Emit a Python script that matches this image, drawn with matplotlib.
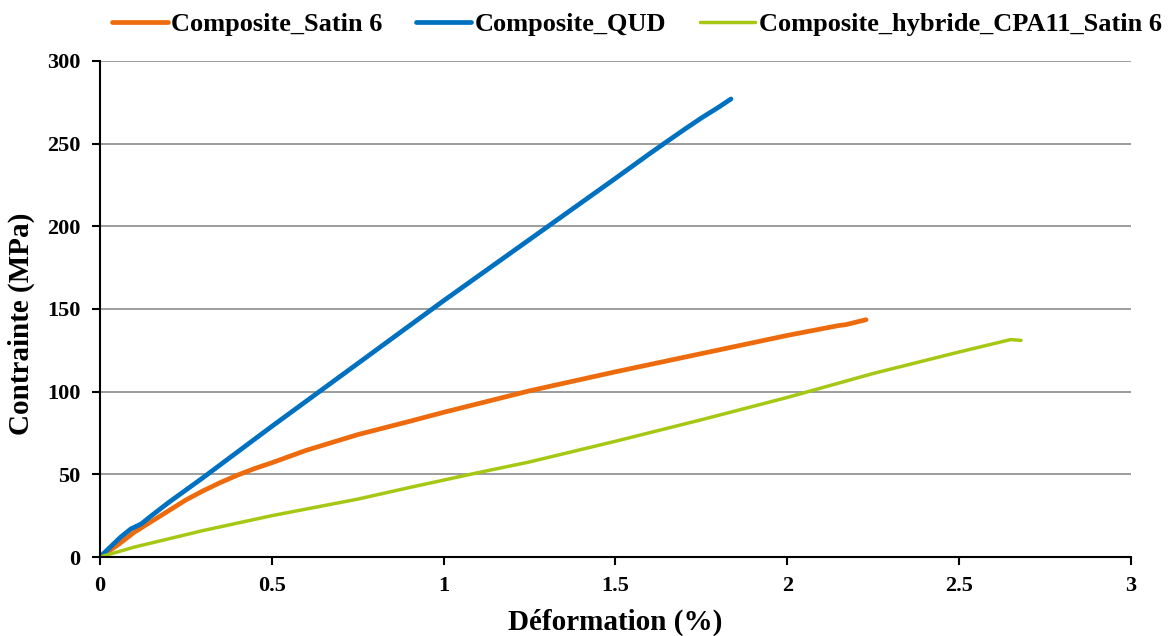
import numpy as np
import matplotlib.pyplot as plt

plt.rcParams['font.family'] = ['Liberation Serif', 'DejaVu Serif']
plt.rcParams['font.weight'] = 'bold'

# Composite_Satin 6
satin_x = [0, 0.05, 0.1, 0.15, 0.2, 0.25, 0.3, 0.35, 0.4, 0.45, 0.5, 0.6, 0.75, 0.9, 1.0, 1.25,
           1.5, 1.75, 2.0, 2.1, 2.15, 2.17, 2.229]
satin_y = [0, 7, 15, 21.5, 28, 34.5, 40, 45, 49.5, 53.5, 57, 64.5, 74, 82, 87.5, 100.5,
           112, 123, 134, 138, 140, 140.5, 143.5]

# Composite_QUD
qud_x = [0, 0.03, 0.06, 0.09, 0.12, 0.15, 0.2, 0.3, 0.5, 0.75, 1.0, 1.25, 1.5, 1.6, 1.65, 1.7, 1.75, 1.8, 1.836]
qud_y = [0, 6, 12, 17, 20, 25, 33, 48, 79, 117, 155, 192, 229, 244, 251.3, 258.5, 265.5, 272, 277]

# Composite_hybride_CPA11_Satin 6
hyb_x = [0, 0.1, 0.2, 0.3, 0.4, 0.5, 0.6, 0.75, 0.9, 1.0, 1.1, 1.25, 1.4, 1.5, 1.75, 2.0, 2.25, 2.5, 2.6, 2.65, 2.68]
hyb_y = [0, 6, 11, 16, 20.5, 25, 29, 35, 42, 46.5, 51, 57.5, 65, 70, 83, 96.5, 111, 124, 129, 131.5, 131]

fig = plt.figure(figsize=(11.69, 6.36), dpi=100)
ax = fig.add_axes([0.0855, 0.1242, 0.882, 0.78])

ax.plot(satin_x, satin_y, color='#ED6B0C', lw=3.4, solid_capstyle='round', solid_joinstyle='round',
        label='Composite_Satin 6')
ax.plot(qud_x, qud_y, color='#0070C0', lw=3.4, solid_capstyle='round', solid_joinstyle='round',
        label='Composite_QUD')
ax.plot(hyb_x, hyb_y, color='#A5C814', lw=2.5, solid_capstyle='round', solid_joinstyle='round',
        label='Composite_hybride_CPA11_Satin 6')

ax.set_xlim(0, 3)
ax.set_ylim(0, 300)
ax.set_xticks([0, 0.5, 1, 1.5, 2, 2.5, 3])
ax.set_xticklabels(['0', '0.5', '1', '1.5', '2', '2.5', '3'])
ax.set_yticks(range(0, 301, 50))
ax.yaxis.grid(True, color='#8C8C8C', lw=1.2)
ax.set_axisbelow(True)
for s in ['top', 'right']:
    ax.spines[s].set_visible(False)
for s in ['left', 'bottom']:
    ax.spines[s].set_linewidth(1.5)
ax.tick_params(axis='both', labelsize=16, width=1.5, length=6, direction='out')
ax.tick_params(axis='y', pad=8)
ax.tick_params(axis='x', pad=8)
ax.set_xlabel('Déformation (%)', fontsize=21, fontweight='bold', labelpad=9)
ax.set_ylabel('Contrainte (MPa)', fontsize=21, fontweight='bold')
ax.yaxis.set_label_coords(-0.063, 0.47)

fig.legend(loc='center', bbox_to_anchor=(0.545, 0.962), ncol=3, frameon=False,
           fontsize=19, handlelength=2.1, handletextpad=0.15, columnspacing=1.25)

fig.savefig('out.png', dpi=100)
